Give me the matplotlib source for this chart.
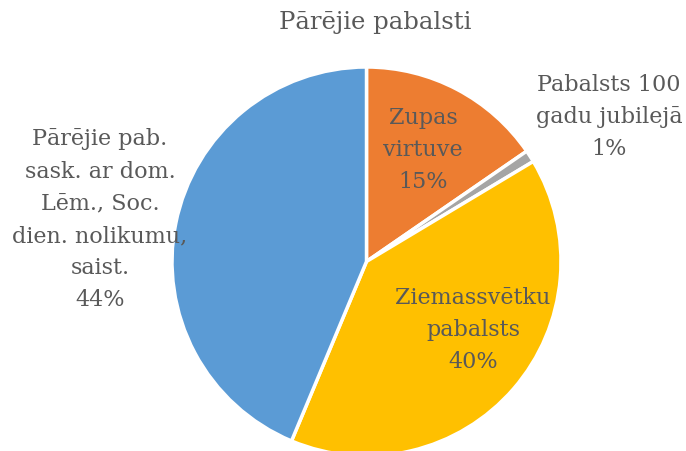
import matplotlib.pyplot as plt

# data
labels = ["Zupas\nvirtuve", "Pabalsts 100\ngadu jubilejā",
          "Ziemassvētku\npabalsts",
          "Pārējie pab.\nsask. ar dom.\nLēm., Soc.\ndien. nolikumu,\nsaist."]
values = [15.4, 1.0, 39.9, 43.7]
colors = ["#ED7D31", "#A5A5A5", "#FFC000", "#5B9BD5"]
title = "Pārējie pabalsti"

W, H = 686, 452
cx, cy, r = 366.5, 262.5, 194.5  # pie centre / radius in pixels

plt.rcParams['font.family'] = ['DejaVu Serif']
txt_col = "#595959"

fig = plt.figure(figsize=(W/100, H/100), dpi=100)
ax = fig.add_axes([(cx-r)/W, (H-cy-r)/H, 2*r/W, 2*r/H])
ax.pie(values, colors=colors, startangle=90, counterclock=False, radius=1,
       wedgeprops=dict(edgecolor="white", linewidth=2.5))
ax.set_xlim(-1, 1)
ax.set_ylim(-1, 1)
ax.set_aspect('equal')
ax.axis('off')

# label centres (pixels)
label_pos = [(423, 150), (609, 117), (473, 330), (100, 220)]
for lab, v, (px, py) in zip(labels, values, label_pos):
    fig.text(px/W, 1-py/H, f"{lab}\n{v:.0f}%", ha="center", va="center",
             fontsize=16, color=txt_col, linespacing=1.6)

fig.text(375/W, 1-22/H, title, ha="center", va="center", fontsize=17.5, color=txt_col)

fig.savefig("out.png", dpi=100)
